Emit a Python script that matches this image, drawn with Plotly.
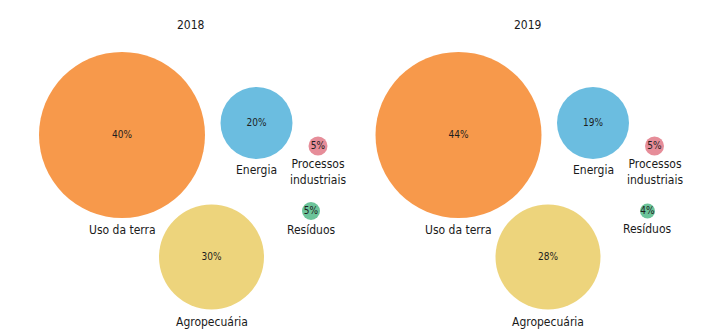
import plotly.graph_objects as go

years = ["2018", "2019"]
categories = ["Uso da terra", "Energia", "Processos<br>industriais", "Resíduos", "Agropecuária"]
values_2018 = [40, 20, 5, 5, 30]
values_2019 = [44, 19, 5, 4, 28]
values = {"2018": values_2018, "2019": values_2019}

# layout (pixel-like coordinates inside a panel) and styling
pos_x = [122, 256.5, 318, 311, 211.5]
pos_y = [135, 123, 146, 211, 257]
diam = {"2018": [166, 72, 19, 18, 105], "2019": [166, 72, 19, 15, 105]}
panel_shift = {"2018": 0, "2019": 336.5}
title_pos = (191, 25)
colors = ["#F7994B", "#6BBDE0", "#E68D99", "#6CC49A", "#EDD47C"]
label_gap = [3, 2, -1, 1, 3]

FONT = "Liberation Sans Narrow, DejaVu Sans Condensed, Roboto, sans-serif"

fig = go.Figure()
annotations = []
for yr in years:
    dx = panel_shift[yr]
    xs = [x + dx for x in pos_x]
    fig.add_trace(go.Scatter(
        x=xs, y=pos_y, mode="markers+text",
        marker=dict(size=diam[yr], sizemode="diameter", color=colors,
                    line=dict(width=0), opacity=1),
        text=[f"{v}%" for v in values[yr]],
        textposition="middle center",
        textfont=dict(family=FONT, size=10, color="#1e1e1e"),
        hoverinfo="skip", showlegend=False, cliponaxis=False,
    ))
    for i, cat in enumerate(categories):
        annotations.append(dict(
            x=xs[i], y=pos_y[i] + diam[yr][i] / 2 + label_gap[i],
            xref="x", yref="y", text=cat, showarrow=False,
            xanchor="center", yanchor="top",
            font=dict(family=FONT, size=12, color="#1a1a1a"),
        ))
    annotations.append(dict(
        x=title_pos[0] + dx, y=title_pos[1], xref="x", yref="y",
        text=yr, showarrow=False, xanchor="center", yanchor="middle",
        font=dict(family=FONT, size=12, color="#1a1a1a"),
    ))

fig.update_layout(
    width=727, height=334,
    margin=dict(l=0, r=0, t=0, b=0),
    paper_bgcolor="white", plot_bgcolor="white",
    xaxis=dict(range=[0, 727], visible=False, fixedrange=True),
    yaxis=dict(range=[334, 0], visible=False, fixedrange=True),
    annotations=annotations,
)

fig.write_html("out.html")
